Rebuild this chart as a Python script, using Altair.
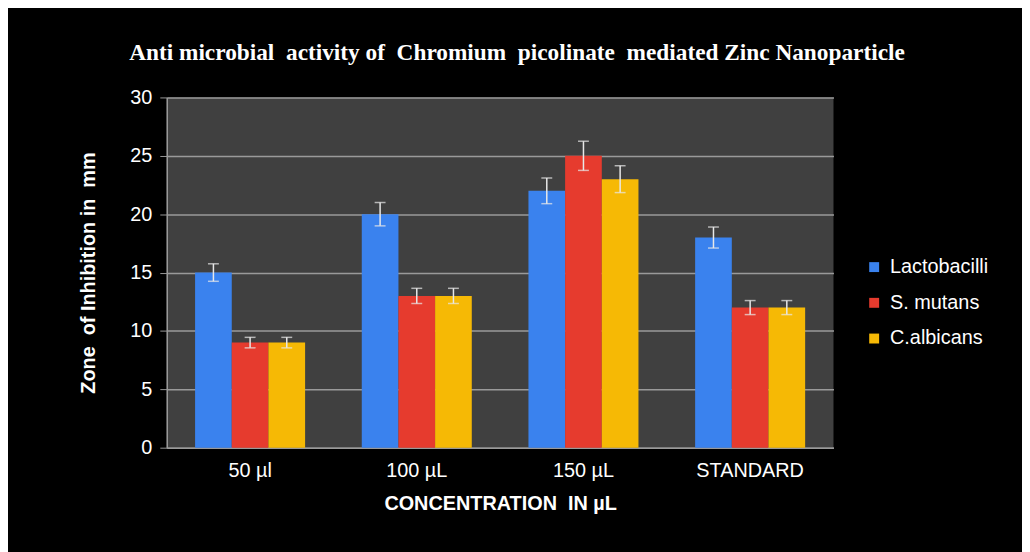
import altair as alt
import pandas as pd

categories = ["50 µl", "100 µL", "150 µL", "STANDARD"]
series = ["Lactobacilli", "S. mutans", "C.albicans"]
lacto = [15, 20, 22, 18]
mutans = [9, 13, 25, 12]
albicans = [9, 13, 23, 12]
lacto_err = [0.75, 1.0, 1.1, 0.9]
mutans_err = [0.45, 0.65, 1.25, 0.6]
albicans_err = [0.45, 0.65, 1.15, 0.6]
colors = ["#3a82ee", "#e63b2e", "#f6b905"]

rows = []
for s, vals, errs in [(series[0], lacto, lacto_err), (series[1], mutans, mutans_err), (series[2], albicans, albicans_err)]:
    for c, v, e in zip(categories, vals, errs):
        rows.append({"conc": c, "series": s, "value": v, "lo": v - e, "hi": v + e})
df = pd.DataFrame(rows)

NB = "\u00a0"

xenc = alt.X("conc:N", sort=categories,
             scale=alt.Scale(paddingInner=0.34, paddingOuter=0.17),
             axis=alt.Axis(title=f"CONCENTRATION{NB}{NB}IN{NB}µL", labelAngle=0, ticks=False,
                           labelPadding=13, titlePadding=13,
                           labelFont="Liberation Sans", labelFontSize=20, labelColor="#ffffff",
                           titleFont="Liberation Sans Narrow, Liberation Sans", titleFontSize=20,
                           titleFontWeight="bold", titleColor="#ffffff",
                           domainColor="#9a9a9a", domainWidth=1.5, grid=False))
xoff = alt.XOffset("series:N", sort=series, scale=alt.Scale(paddingInner=0, paddingOuter=0))

base = alt.Chart(df)

bars = base.mark_bar().encode(
    x=xenc,
    xOffset=xoff,
    y=alt.Y("value:Q", scale=alt.Scale(domain=[0, 30]),
            axis=alt.Axis(title=f"Zone{NB}{NB}of{NB}Inhibition{NB}in{NB}{NB}mm",
                          values=[0, 5, 10, 15, 20, 25, 30],
                          tickSize=7, tickColor="#9a9a9a", domainColor="#9a9a9a", domainWidth=1.5,
                          gridColor="#9a9a9a", gridWidth=1.5, labelPadding=8, titlePadding=32,
                          labelFont="Liberation Sans", labelFontSize=20, labelColor="#ffffff",
                          titleFont="Liberation Sans", titleFontSize=20, titleFontWeight="bold",
                          titleColor="#ffffff")),
    color=alt.Color("series:N", sort=series,
                    scale=alt.Scale(domain=series, range=colors),
                    legend=alt.Legend(title=None, orient="none", legendX=703, legendY=161,
                                      symbolType="square", symbolSize=100, symbolStrokeWidth=0,
                                      labelFont="Liberation Sans", labelFontSize=20,
                                      labelColor="#ffffff", labelOffset=6, rowPadding=16)),
)

rules = base.mark_rule(color="#e8e8e8", strokeWidth=1.5).encode(
    x=alt.X("conc:N", sort=categories),
    xOffset=alt.XOffset("series:N", sort=series),
    y="lo:Q",
    y2="hi:Q",
)
caps_hi = base.mark_tick(color="#e8e8e8", orient="horizontal", size=11, thickness=1.5).encode(
    x=alt.X("conc:N", sort=categories),
    xOffset=alt.XOffset("series:N", sort=series),
    y="hi:Q",
)
caps_lo = base.mark_tick(color="#e8e8e8", orient="horizontal", size=11, thickness=1.5).encode(
    x=alt.X("conc:N", sort=categories),
    xOffset=alt.XOffset("series:N", sort=series),
    y="lo:Q",
)

chart = alt.layer(bars, rules, caps_hi, caps_lo).properties(
    width=672, height=353,
    title=alt.TitleParams(f"Anti microbial{NB} activity of{NB} Chromium{NB} picolinate{NB} mediated Zinc Nanoparticle",
                          font="Liberation Serif", fontSize=23.5, fontWeight="bold", color="#ffffff",
                          anchor="middle", offset=23, dx=17),
    background="#000000",
    padding={"left": 160, "top": 88, "right": 190, "bottom": 103},
    autosize=alt.AutoSizeParams(type="none"),
).configure_view(fill="#404040", stroke=None)

chart.save("out.html", embed_options={"renderer": "svg", "actions": False})
